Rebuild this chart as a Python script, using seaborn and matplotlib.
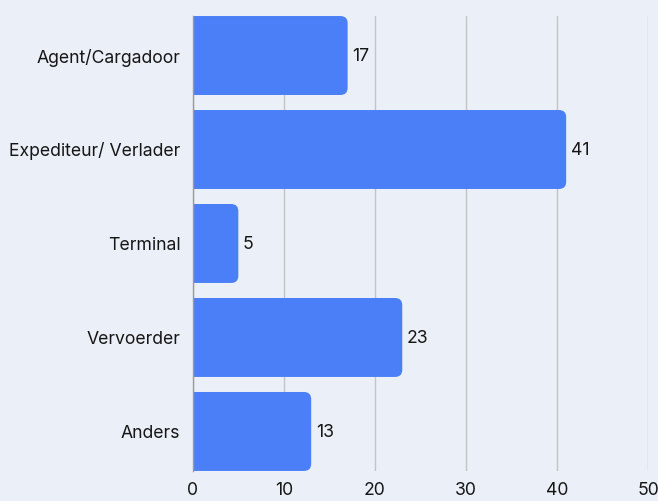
import matplotlib
matplotlib.use('Agg')
import matplotlib.pyplot as plt
import seaborn as sns
import pandas as pd
from matplotlib.patches import FancyBboxPatch

categories = ['Agent/Cargadoor', 'Expediteur/ Verlader', 'Terminal', 'Vervoerder', 'Anders']
values = [17, 41, 5, 23, 13]
xticks = [0, 10, 20, 30, 40, 50]

bg = '#EBEFF7'
bar_color = '#4A7FF7'
text_color = '#161616'
bar_w = 0.84

sns.set_theme(style='white')
plt.rcParams['font.family'] = ['Inter', 'DejaVu Sans']

df = pd.DataFrame({'category': categories, 'value': values})

fig = plt.figure(figsize=(6.58, 5.01), dpi=100, facecolor=bg)
ax = fig.add_axes([0.293, 0.060, 0.692, 0.908])
ax.set_facecolor(bg)

sns.barplot(data=df, x='value', y='category', color=bar_color, width=bar_w,
            saturation=1, ax=ax)

# swap plain bars for ones with rounded right corners
for p in list(ax.patches):
    x0, y0 = p.get_x(), p.get_y()
    w, h = p.get_width(), p.get_height()
    p.remove()
    rb = FancyBboxPatch((x0 - 2, y0), w + 2, h,
                        boxstyle='round,pad=0,rounding_size=0.8',
                        mutation_aspect=0.095, facecolor=bar_color,
                        edgecolor='none', zorder=2)
    ax.add_patch(rb)
    ax.text(x0 + w + 0.5, y0 + h / 2 + 0.01, str(int(w)), va='center', ha='left',
            fontsize=12.7, color=text_color, zorder=3)

ax.set_xlim(0, 50)
ax.set_ylim(len(categories) - 1 + bar_w / 2, -bar_w / 2)
ax.set_xticks(xticks)
ax.set_xlabel('')
ax.set_ylabel('')
ax.grid(axis='x', color='#C4C4C4', linewidth=1, zorder=0)
ax.set_axisbelow(True)
for s in ['top', 'right', 'bottom']:
    ax.spines[s].set_visible(False)
ax.spines['left'].set_color('#9A9A9A')
ax.spines['left'].set_linewidth(1)
ax.tick_params(axis='y', length=0, pad=9, labelsize=12.7, labelcolor=text_color)
ax.tick_params(axis='x', length=0, pad=8, labelsize=12.7, labelcolor=text_color)
for lbl in ax.get_xticklabels():
    lbl.set_clip_on(False)

fig.savefig('out.png', dpi=100, facecolor=bg)
